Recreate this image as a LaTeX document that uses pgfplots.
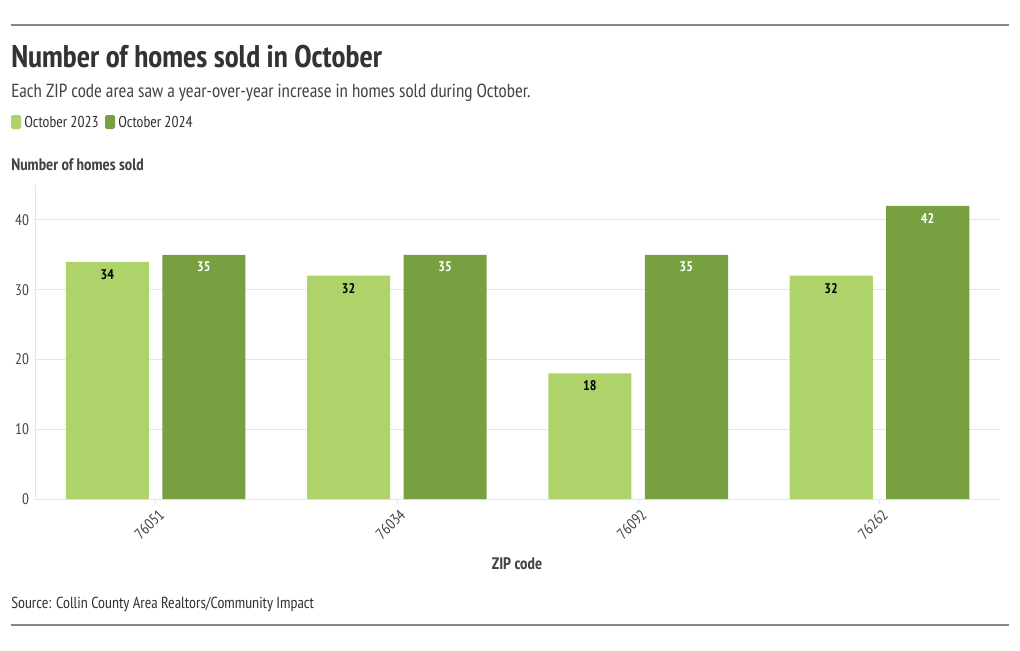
\documentclass[border=0pt]{standalone}
\usepackage{pgfplots}
\pgfplotsset{compat=1.18}
\usepackage{fontspec}
\setmainfont{PT Sans Narrow}
\definecolor{light}{HTML}{AED36B}
\definecolor{dark}{HTML}{78A040}
\definecolor{txt}{HTML}{333333}
\definecolor{sub}{HTML}{444444}
\definecolor{gridc}{HTML}{E6E6E6}
\definecolor{rule}{HTML}{888888}
\begin{document}
\begin{tikzpicture}
\begin{scope}[x=0.75pt,y=-0.75pt]
\path[use as bounding box] (0,0) rectangle (1020,650);
\draw[rule, line width=0.8pt] (11,25) -- (1009,25);
\draw[rule, line width=0.8pt] (11,625) -- (1009,625);
\node[anchor=base west, inner sep=0, text=txt, font=\bfseries\fontsize{23.5}{26}\selectfont] at (11,67) {Number of homes sold in October};
\node[anchor=base west, inner sep=0, text=sub, font=\fontsize{14.2}{16}\selectfont] at (11,97) {Each ZIP code area saw a year-over-year increase in homes sold during October.};
\fill[light, rounded corners=1.2pt] (11,115) rectangle (21,129);
\node[anchor=base west, inner sep=0, text=txt, font=\fontsize{11.8}{13}\selectfont] at (24,127.5) {October 2023};
\fill[dark, rounded corners=1.2pt] (105,115) rectangle (115,129);
\node[anchor=base west, inner sep=0, text=txt, font=\fontsize{11.8}{13}\selectfont] at (118,127.5) {October 2024};
\node[anchor=base west, inner sep=0, text=sub, font=\bfseries\fontsize{12.5}{14}\selectfont] at (11,170) {Number of homes sold};
\node[anchor=base, inner sep=0, text=sub, font=\bfseries\fontsize{12.5}{14}\selectfont] at (517,569) {ZIP code};
\node[anchor=base west, inner sep=0, text=txt, font=\fontsize{12}{14}\selectfont] at (11,608) {Source: Collin County Area Realtors/Community Impact};
\end{scope}
\begin{axis}[
  at={(26.25pt,-374.25pt)}, anchor=south west,
  scale only axis, width=723.75pt, height=235.5pt,
  xmin=-0.5, xmax=3.5, ymin=0, ymax=45,
  axis x line*=bottom, axis y line*=left,
  axis line style={gridc, line width=0.6pt, -},
  xtick={0,1,2,3}, xticklabels={76051,76034,76092,76262},
  ytick={0,10,20,30,40},
  ymajorgrids, grid style={gridc, line width=0.6pt},
  major tick length=4pt,
  xtick style={gridc}, ytick style={draw=none},
  /pgf/number format/assume math mode=true,
  yticklabel style={text=sub, font=\fontsize{11.5}{13}\selectfont, xshift=-1pt},
  xticklabel style={text=sub, font=\fontsize{11.5}{13}\selectfont, rotate=45, anchor=north east, inner sep=1pt, yshift=-2pt},
  ybar, bar width=0.345,
  nodes near coords,
  nodes near coords style={anchor=north, yshift=-2pt, font=\bfseries\fontsize{10.5}{12}\selectfont},
]
\addplot[fill=light, draw=none, bar shift=-0.2, nodes near coords style={text=black}] coordinates {(0,34) (1,32) (2,18) (3,32)};
\addplot[fill=dark, draw=none, bar shift=0.2, nodes near coords style={text=white}] coordinates {(0,35) (1,35) (2,35) (3,42)};
\end{axis}
\end{tikzpicture}
\end{document}
